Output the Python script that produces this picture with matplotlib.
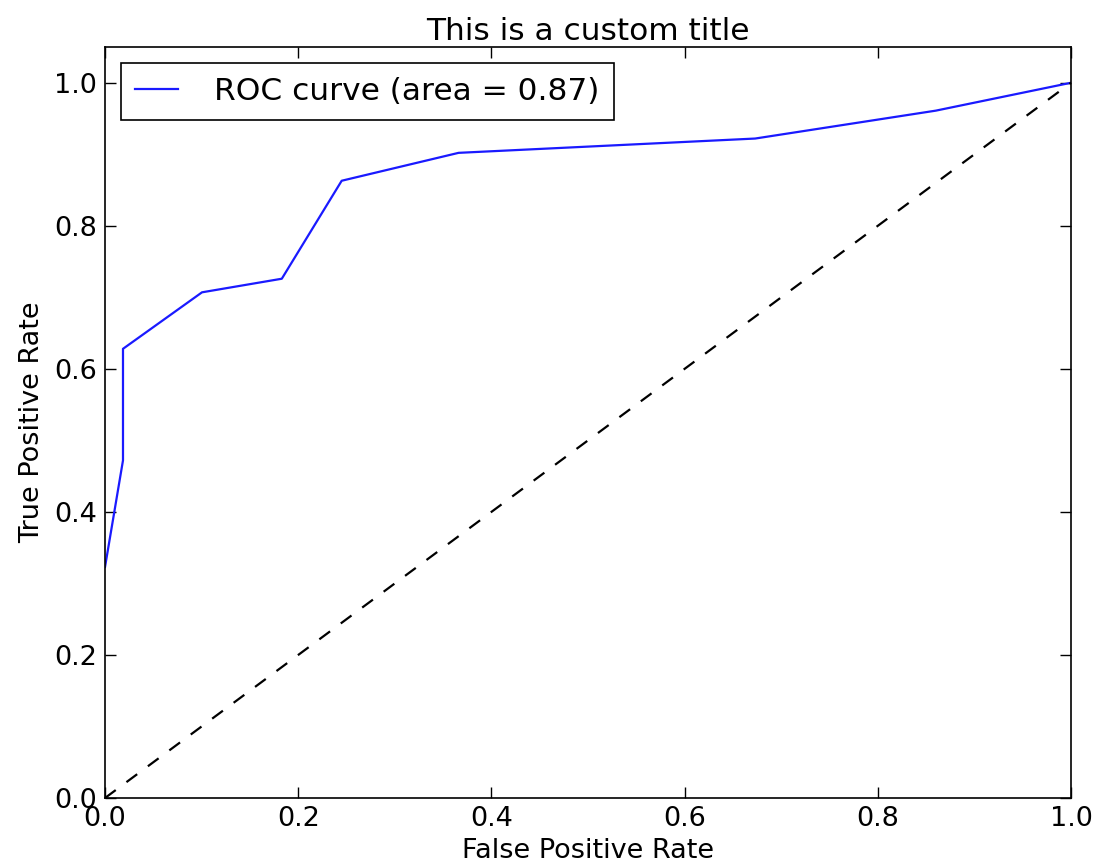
import matplotlib
matplotlib.use("Agg")
import matplotlib.pyplot as plt

fpr = [0.0, 0.0186, 0.0186, 0.1004, 0.183, 0.245, 0.366, 0.673, 0.860, 1.0]
tpr = [0.323, 0.472, 0.628, 0.707, 0.726, 0.863, 0.902, 0.922, 0.961, 1.0]
roc_auc = 0.87
diag = [0.0, 1.0]

fig = plt.figure(figsize=(10.94, 8.67), dpi=100)
ax = fig.add_axes([0.096, 0.0796, 0.883, 0.8662])
ax.plot(fpr, tpr, color='#1a1aff', lw=1.6, label='ROC curve (area = %0.2f)' % roc_auc)
ax.plot(diag, diag, 'k--', lw=1.6, dashes=(6, 6))
ax.set_xlim(0.0, 1.0)
ax.set_ylim(0.0, 1.05)
ax.set_xticks([0.0, 0.2, 0.4, 0.6, 0.8, 1.0])
ax.set_yticks([0.0, 0.2, 0.4, 0.6, 0.8, 1.0])
ax.tick_params(direction='in', top=True, right=True, length=8, width=1, labelsize=19.5, pad=6)
for s in ax.spines.values():
    s.set_linewidth(1.2)
ax.set_xlabel('False Positive Rate', fontsize=19.5, labelpad=4)
ax.set_ylabel('True Positive Rate', fontsize=19.5, labelpad=6)
ax.set_title('This is a custom title', fontsize=22.5, pad=5)
leg = ax.legend(loc='upper left', fontsize=22.5, fancybox=False, framealpha=1, edgecolor='black',
                handlelength=1.4, handletextpad=1.15, borderpad=0.45, borderaxespad=0.5)
leg.get_frame().set_linewidth(1.2)
fig.savefig('out.png', dpi=100)
